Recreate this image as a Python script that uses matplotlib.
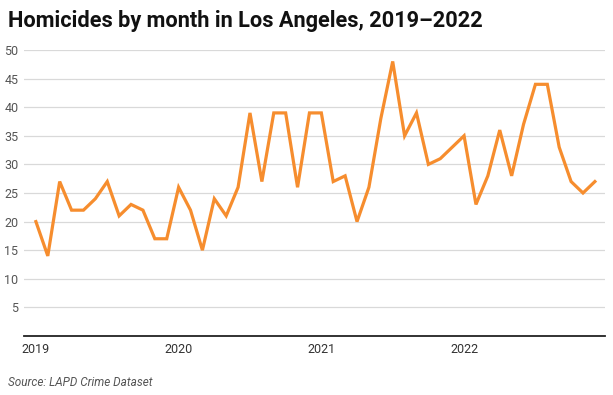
import numpy as np
import matplotlib
matplotlib.use("Agg")
import matplotlib.pyplot as plt

plt.rcParams["font.family"] = ["Roboto", "DejaVu Sans"]

# Monthly homicide counts, Jan 2019 - Dec 2022
homicides_2019 = [20, 14, 27, 22, 22, 24, 27, 21, 23, 22, 17, 17]
homicides_2020 = [26, 22, 15, 24, 21, 26, 39, 27, 39, 39, 26, 39]
homicides_2021 = [39, 27, 28, 20, 26, 38, 48, 35, 39, 30, 31, 33]
homicides_2022 = [35, 23, 28, 36, 28, 37, 44, 44, 33, 27, 25, 27]
year_labels = ["2019", "2020", "2021", "2022"]
y_ticks = [5, 10, 15, 20, 25, 30, 35, 40, 45, 50]

counts = homicides_2019 + homicides_2020 + homicides_2021 + homicides_2022
months = np.arange(len(counts))

fig = plt.figure(figsize=(6.13, 3.95), dpi=100)
ax = fig.add_axes([24 / 613, 1 - 336 / 395, (605 - 24) / 613, (336 - 50) / 395])

ax.plot(months, counts, color="#f68d2e", linewidth=2.3, solid_joinstyle="miter")

ax.set_ylim(0, 50)
ax.set_xlim(-1.0, 47.85)
ax.set_yticks(y_ticks)
ax.set_yticklabels([str(t) for t in y_ticks])
ax.set_xticks([0, 12, 24, 36])
ax.set_xticklabels(year_labels)

ax.grid(axis="y", color="#d9d9d9", linewidth=0.9)
ax.set_axisbelow(True)
for side in ["top", "right", "left"]:
    ax.spines[side].set_visible(False)
ax.spines["bottom"].set_color("#222222")
ax.spines["bottom"].set_linewidth(1.3)
ax.tick_params(axis="y", length=0, pad=4, labelsize=9, labelcolor="#555555")
ax.tick_params(axis="x", length=0, pad=5, labelsize=9, labelcolor="#333333")

fig.text(8 / 613, 1 - 27 / 395, "Homicides by month in Los Angeles, 2019\u20132022",
         fontsize=15.7, fontweight="bold", color="#111111", va="baseline")
fig.text(8 / 613, 1 - 386 / 395, "Source: LAPD Crime Dataset",
         fontsize=8.5, style="italic", color="#555555", va="baseline")

fig.savefig("out.png", dpi=100)
